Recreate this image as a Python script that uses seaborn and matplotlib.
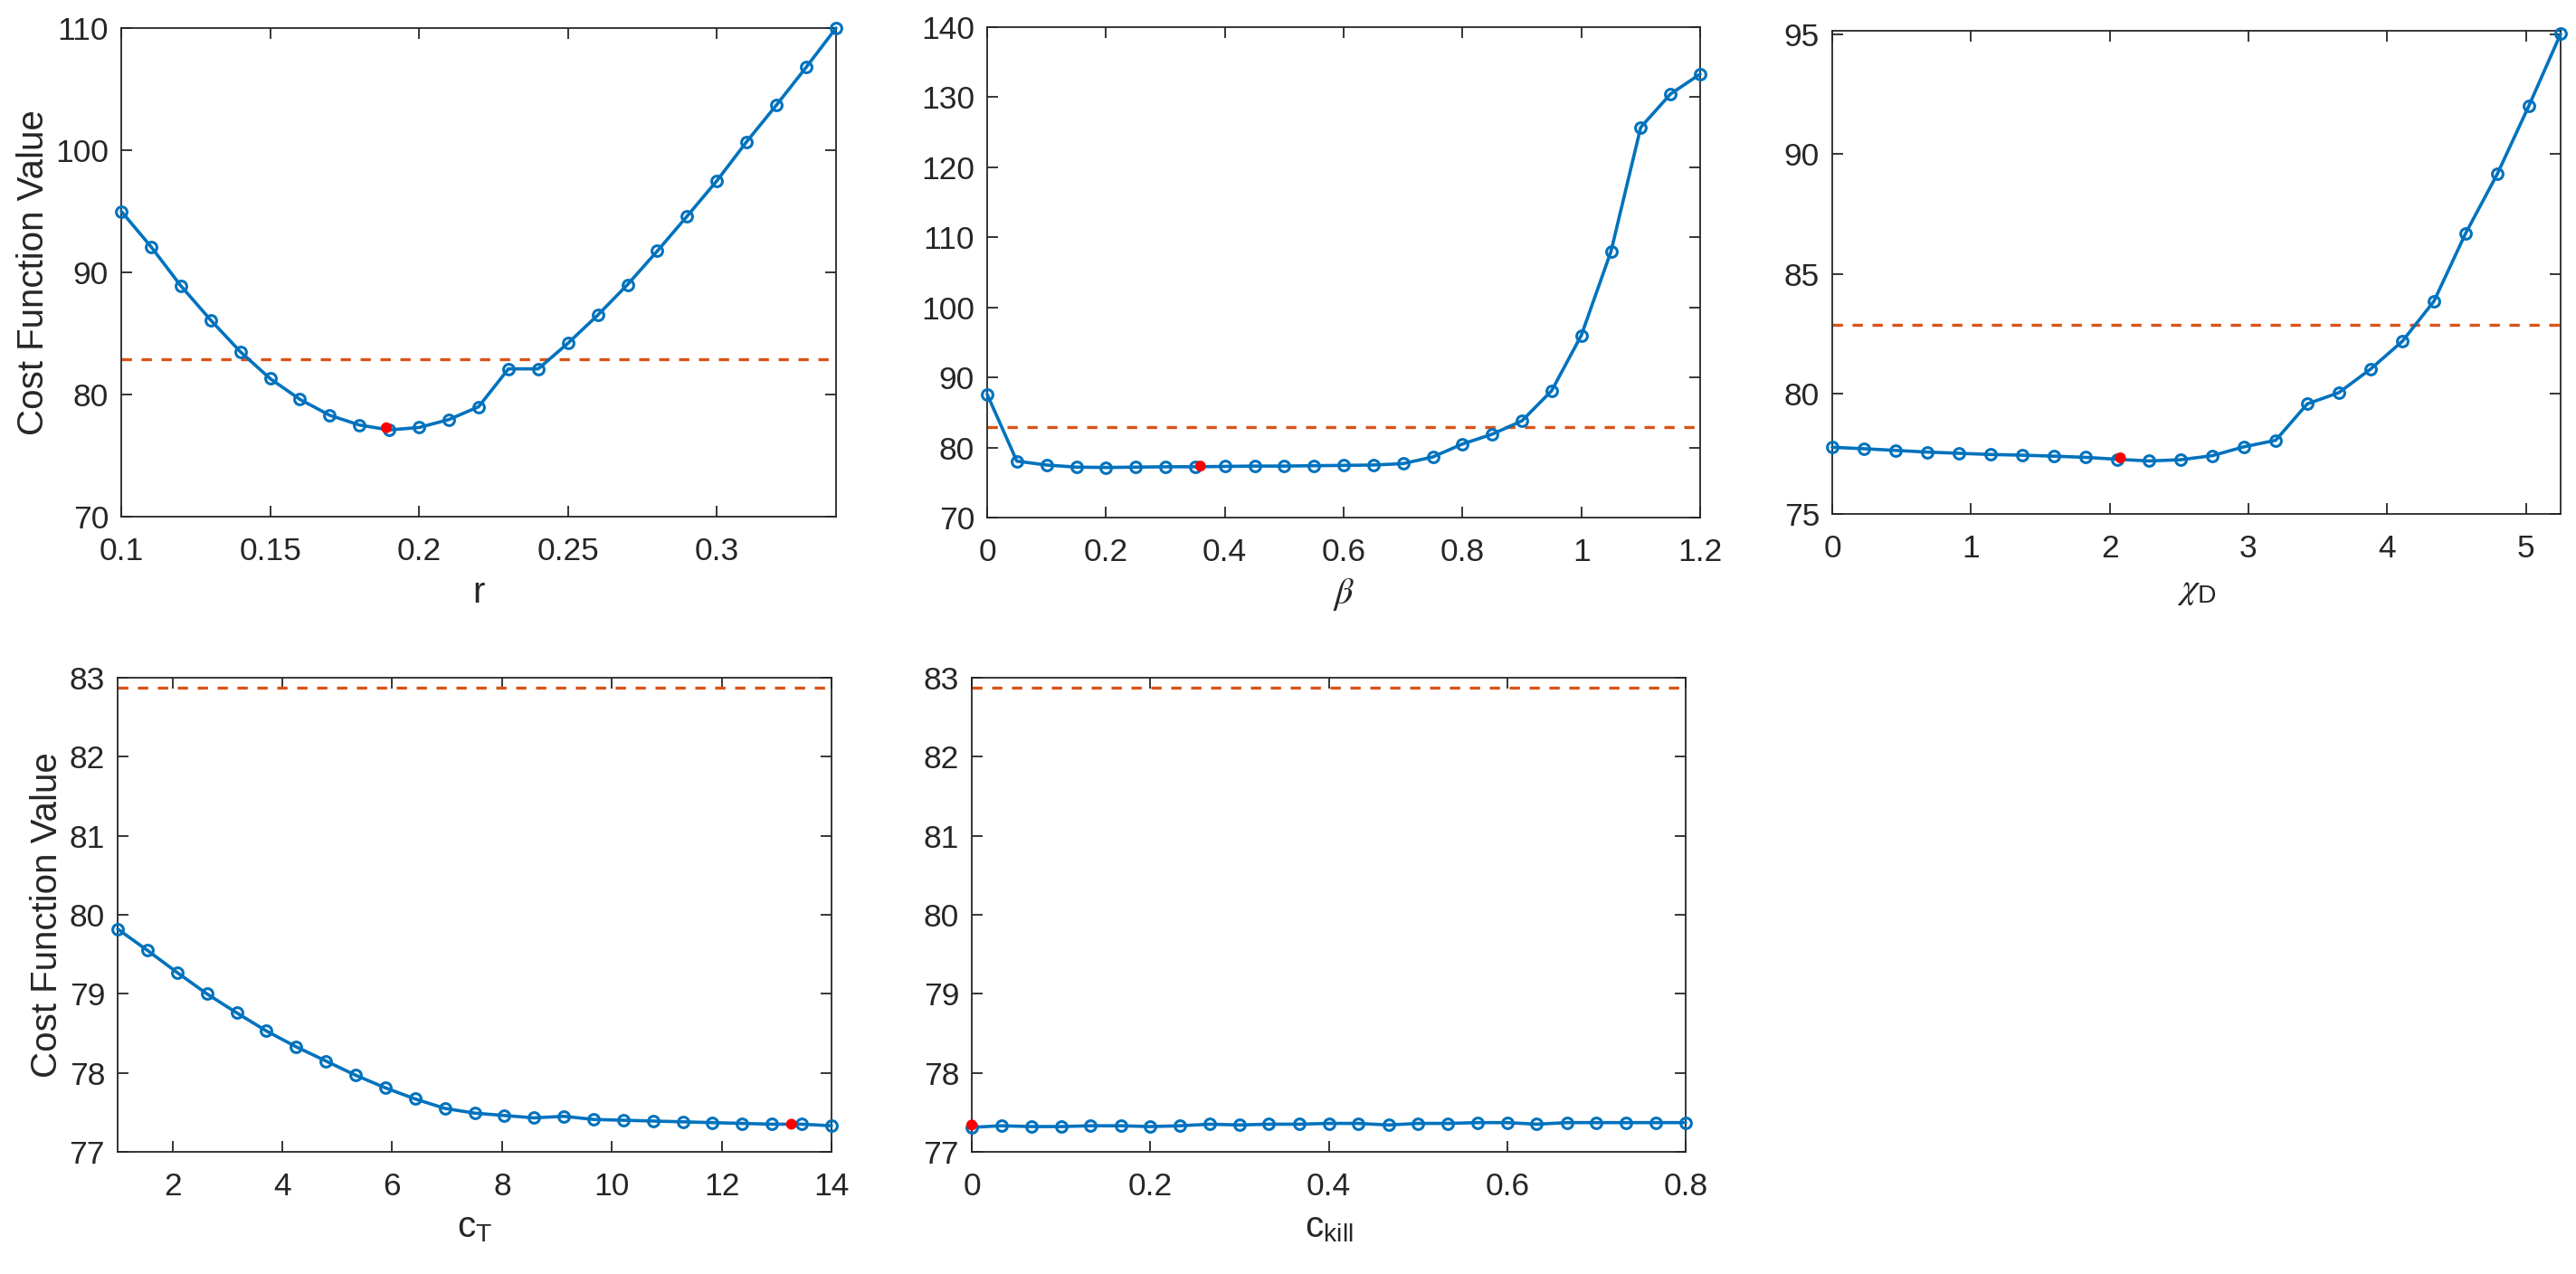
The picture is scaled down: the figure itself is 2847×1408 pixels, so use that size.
import matplotlib
matplotlib.use("Agg")
import matplotlib.pyplot as plt
from matplotlib.ticker import FormatStrFormatter
import seaborn as sns

# ---------------- data ----------------
r_vals = [0.10, 0.11, 0.12, 0.13, 0.14, 0.15, 0.16, 0.17, 0.18, 0.19, 0.20, 0.21, 0.22,
          0.23, 0.24, 0.25, 0.26, 0.27, 0.28, 0.29, 0.30, 0.31, 0.32, 0.33, 0.34]
r_cost = [95.0, 92.1, 88.9, 86.1, 83.5, 81.3, 79.6, 78.3, 77.5, 77.1, 77.3, 77.95, 79.0,
          82.1, 82.1, 84.2, 86.5, 89.0, 91.75, 94.6, 97.5, 100.7, 103.7, 106.8, 110.0]
r_best = (0.189, 77.28)

beta_vals = [0.00, 0.05, 0.10, 0.15, 0.20, 0.25, 0.30, 0.35, 0.40, 0.45, 0.50, 0.55, 0.60,
             0.65, 0.70, 0.75, 0.80, 0.85, 0.90, 0.95, 1.00, 1.05, 1.10, 1.15, 1.20]
beta_cost = [87.6, 78.05, 77.5, 77.2, 77.15, 77.2, 77.25, 77.25, 77.3, 77.35, 77.35, 77.4, 77.45,
             77.5, 77.7, 78.65, 80.5, 81.9, 83.8, 88.1, 96.0, 108.0, 125.7, 130.45, 133.3]
beta_best = (0.359, 77.35)

chi_vals = [0.000, 0.228, 0.457, 0.685, 0.913, 1.141, 1.370, 1.598, 1.826, 2.054, 2.283, 2.511,
            2.739, 2.967, 3.196, 3.424, 3.652, 3.880, 4.109, 4.337, 4.565, 4.793, 5.022, 5.250]
chi_cost = [77.78, 77.72, 77.65, 77.58, 77.53, 77.48, 77.45, 77.41, 77.36, 77.28, 77.21, 77.26,
            77.43, 77.80, 78.07, 79.59, 80.06, 81.04, 82.20, 83.87, 86.70, 89.17, 92.03, 95.02]
chi_best = (2.077, 77.34)

cT_vals = [1.000, 1.542, 2.083, 2.625, 3.167, 3.708, 4.250, 4.792, 5.333, 5.875, 6.417, 6.958,
           7.500, 8.042, 8.583, 9.125, 9.667, 10.208, 10.750, 11.292, 11.833, 12.375, 12.917,
           13.458, 14.000]
cT_cost = [79.82, 79.55, 79.27, 79.00, 78.76, 78.53, 78.33, 78.15, 77.97, 77.81, 77.67, 77.55,
           77.49, 77.46, 77.43, 77.45, 77.41, 77.40, 77.39, 77.38, 77.37, 77.36, 77.35,
           77.35, 77.33]
cT_best = (13.27, 77.35)

ckill_vals = [0.000, 0.033, 0.067, 0.100, 0.133, 0.167, 0.200, 0.233, 0.267, 0.300, 0.333,
              0.367, 0.400, 0.433, 0.467, 0.500, 0.533, 0.567, 0.600, 0.633, 0.667, 0.700,
              0.733, 0.767, 0.800]
ckill_cost = [77.31, 77.33, 77.32, 77.32, 77.33, 77.33, 77.32, 77.33, 77.35, 77.34, 77.35,
              77.35, 77.36, 77.36, 77.34, 77.36, 77.36, 77.37, 77.37, 77.35, 77.37, 77.37,
              77.37, 77.37, 77.37]
ckill_best = (0.0, 77.34)

threshold = 82.87

# ---------------- style ----------------
sns.set_style("ticks")
plt.rcParams["font.family"] = ["Liberation Sans", "DejaVu Sans"]
plt.rcParams["mathtext.fontset"] = "custom"
plt.rcParams["mathtext.rm"] = "Liberation Sans"
plt.rcParams["mathtext.it"] = "STIXGeneral:italic"
plt.rcParams["mathtext.sf"] = "Liberation Sans"

BLUE = "#0072BD"
ORANGE = "#D95319"
TXT = "#262626"

fig = plt.figure(figsize=(28.47, 14.08), dpi=100)
W, H = 2847.0, 1408.0


def add_ax(l, t, r, b):
    return fig.add_axes([l / W, 1 - b / H, (r - l) / W, (b - t) / H])


panels = [
    dict(box=(134, 31, 924, 571), x=r_vals, y=r_cost, best=r_best,
         xlim=(0.1, 0.34), ylim=(70, 110), xt=[0.1, 0.15, 0.2, 0.25, 0.3],
         yt=[70, 80, 90, 100, 110], xl="r", ylab=True),
    dict(box=(1091, 30, 1879, 572), x=beta_vals, y=beta_cost, best=beta_best,
         xlim=(0, 1.2), ylim=(70, 140), xt=[0, 0.2, 0.4, 0.6, 0.8, 1, 1.2],
         yt=[70, 80, 90, 100, 110, 120, 130, 140], xl=r"$\beta$", ylab=False),
    dict(box=(2025, 34, 2830, 568), x=chi_vals, y=chi_cost, best=chi_best,
         xlim=(0, 5.25), ylim=(75, 95.15), xt=[0, 1, 2, 3, 4, 5],
         yt=[75, 80, 85, 90, 95], xl=r"$\chi_{\mathrm{D}}$", ylab=False),
    dict(box=(130, 749, 919, 1273), x=cT_vals, y=cT_cost, best=cT_best,
         xlim=(1, 14), ylim=(77, 83), xt=[2, 4, 6, 8, 10, 12, 14],
         yt=[77, 78, 79, 80, 81, 82, 83], xl=r"c$_{\mathrm{T}}$", ylab=True),
    dict(box=(1074, 749, 1863, 1273), x=ckill_vals, y=ckill_cost, best=ckill_best,
         xlim=(0, 0.8), ylim=(77, 83), xt=[0, 0.2, 0.4, 0.6, 0.8],
         yt=[77, 78, 79, 80, 81, 82, 83], xl=r"c$_{\mathrm{kill}}$", ylab=False),
]

for p in panels:
    ax = add_ax(*p["box"])
    ax.axhline(threshold, color=ORANGE, lw=2.4, ls=(0, (3.4, 3.2)), zorder=2)
    sns.lineplot(x=p["x"], y=p["y"], ax=ax, color=BLUE, lw=2.6, marker="o",
                 markersize=8.5, markerfacecolor="none", markeredgecolor=BLUE,
                 markeredgewidth=2.2, clip_on=False, zorder=3)
    sns.scatterplot(x=[p["best"][0]], y=[p["best"][1]], ax=ax, color="red",
                    s=75, edgecolor="none", zorder=5, clip_on=False)
    ax.set_xlim(*p["xlim"])
    ax.set_ylim(*p["ylim"])
    ax.set_xticks(p["xt"])
    ax.set_yticks(p["yt"])
    ax.xaxis.set_major_formatter(FormatStrFormatter("%g"))
    ax.yaxis.set_major_formatter(FormatStrFormatter("%g"))
    ax.tick_params(direction="in", length=8.5, width=1.3, labelsize=25.5,
                   colors=TXT, top=True, right=True)
    ax.tick_params(axis="x", pad=16)
    ax.tick_params(axis="y", pad=10)
    for s in ax.spines.values():
        s.set_visible(True)
        s.set_linewidth(1.3)
        s.set_color(TXT)
    ax.set_xlabel(p["xl"], fontsize=29, color=TXT, labelpad=7)
    if p["ylab"]:
        ax.set_ylabel("Cost Function Value", fontsize=29, color=TXT, labelpad=4)
    else:
        ax.set_ylabel("")

fig.savefig("out.png", dpi=100, facecolor="white")
